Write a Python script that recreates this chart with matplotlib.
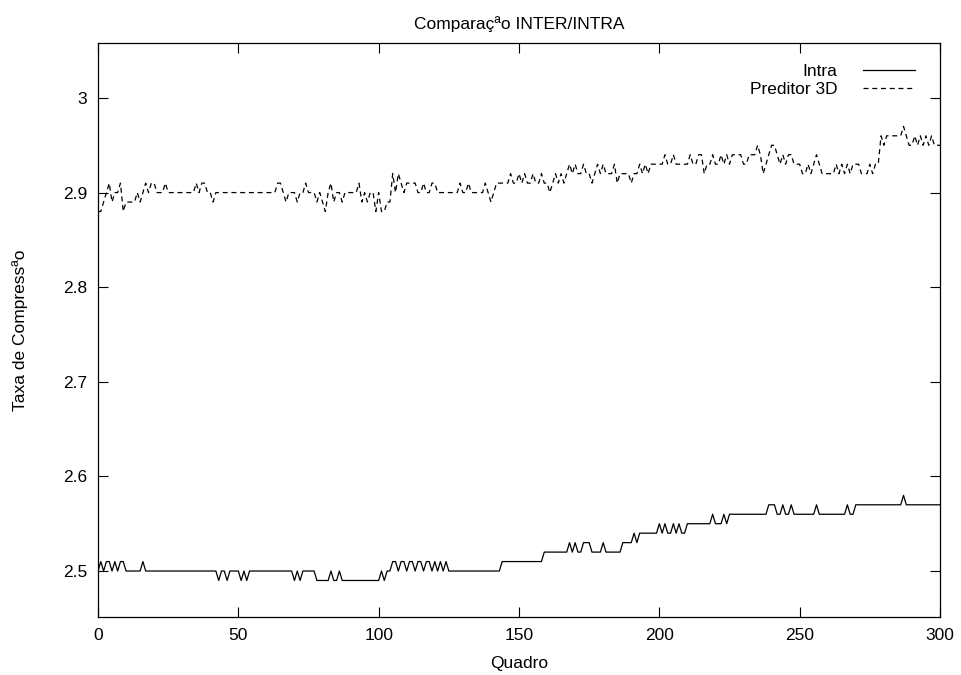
import matplotlib
matplotlib.use("Agg")
import matplotlib.pyplot as plt

plt.rcParams['font.family'] = ['Liberation Sans', 'DejaVu Sans']

# frame numbers 0..300
quadro = list(range(301))

intra = [
    2.50, 2.51, 2.50, 2.51, 2.51, 2.50, 2.51, 2.50, 2.51, 2.51,
    2.50, 2.50, 2.50, 2.50, 2.50, 2.50, 2.51, 2.50, 2.50, 2.50,
    2.50, 2.50, 2.50, 2.50, 2.50, 2.50, 2.50, 2.50, 2.50, 2.50,
    2.50, 2.50, 2.50, 2.50, 2.50, 2.50, 2.50, 2.50, 2.50, 2.50,
    2.50, 2.50, 2.50, 2.49, 2.50, 2.50, 2.49, 2.50, 2.50, 2.50,
    2.50, 2.49, 2.50, 2.49, 2.50, 2.50, 2.50, 2.50, 2.50, 2.50,
    2.50, 2.50, 2.50, 2.50, 2.50, 2.50, 2.50, 2.50, 2.50, 2.50,
    2.49, 2.50, 2.49, 2.50, 2.50, 2.50, 2.50, 2.50, 2.49, 2.49,
    2.49, 2.49, 2.49, 2.50, 2.49, 2.49, 2.50, 2.49, 2.49, 2.49,
    2.49, 2.49, 2.49, 2.49, 2.49, 2.49, 2.49, 2.49, 2.49, 2.49,
    2.49, 2.50, 2.49, 2.50, 2.50, 2.51, 2.51, 2.50, 2.51, 2.51,
    2.50, 2.51, 2.51, 2.50, 2.51, 2.51, 2.50, 2.51, 2.51, 2.50,
    2.51, 2.50, 2.51, 2.50, 2.51, 2.50, 2.50, 2.50, 2.50, 2.50,
    2.50, 2.50, 2.50, 2.50, 2.50, 2.50, 2.50, 2.50, 2.50, 2.50,
    2.50, 2.50, 2.50, 2.50, 2.51, 2.51, 2.51, 2.51, 2.51, 2.51,
    2.51, 2.51, 2.51, 2.51, 2.51, 2.51, 2.51, 2.51, 2.51, 2.52,
    2.52, 2.52, 2.52, 2.52, 2.52, 2.52, 2.52, 2.52, 2.53, 2.52,
    2.53, 2.52, 2.52, 2.53, 2.53, 2.53, 2.52, 2.52, 2.52, 2.52,
    2.53, 2.52, 2.52, 2.52, 2.52, 2.52, 2.52, 2.53, 2.53, 2.53,
    2.53, 2.54, 2.53, 2.54, 2.54, 2.54, 2.54, 2.54, 2.54, 2.54,
    2.55, 2.54, 2.55, 2.54, 2.54, 2.55, 2.54, 2.55, 2.54, 2.54,
    2.55, 2.55, 2.55, 2.55, 2.55, 2.55, 2.55, 2.55, 2.55, 2.56,
    2.55, 2.55, 2.55, 2.56, 2.55, 2.56, 2.56, 2.56, 2.56, 2.56,
    2.56, 2.56, 2.56, 2.56, 2.56, 2.56, 2.56, 2.56, 2.56, 2.57,
    2.57, 2.57, 2.56, 2.56, 2.57, 2.56, 2.56, 2.57, 2.56, 2.56,
    2.56, 2.56, 2.56, 2.56, 2.56, 2.56, 2.57, 2.56, 2.56, 2.56,
    2.56, 2.56, 2.56, 2.56, 2.56, 2.56, 2.56, 2.57, 2.56, 2.56,
    2.57, 2.57, 2.57, 2.57, 2.57, 2.57, 2.57, 2.57, 2.57, 2.57,
    2.57, 2.57, 2.57, 2.57, 2.57, 2.57, 2.57, 2.58, 2.57, 2.57,
    2.57, 2.57, 2.57, 2.57, 2.57, 2.57, 2.57, 2.57, 2.57, 2.57,
    2.57,
]

preditor = [
    2.88, 2.88, 2.89, 2.90, 2.91, 2.89, 2.90, 2.90, 2.91, 2.88,
    2.89, 2.89, 2.89, 2.89, 2.90, 2.89, 2.90, 2.91, 2.90, 2.91,
    2.91, 2.90, 2.90, 2.90, 2.91, 2.90, 2.90, 2.90, 2.90, 2.90,
    2.90, 2.90, 2.90, 2.90, 2.90, 2.91, 2.90, 2.91, 2.91, 2.90,
    2.90, 2.89, 2.90, 2.90, 2.90, 2.90, 2.90, 2.90, 2.90, 2.90,
    2.90, 2.90, 2.90, 2.90, 2.90, 2.90, 2.90, 2.90, 2.90, 2.90,
    2.90, 2.90, 2.90, 2.90, 2.91, 2.91, 2.90, 2.89, 2.90, 2.90,
    2.90, 2.89, 2.90, 2.90, 2.91, 2.90, 2.90, 2.90, 2.89, 2.90,
    2.89, 2.88, 2.90, 2.91, 2.89, 2.90, 2.90, 2.89, 2.90, 2.90,
    2.90, 2.90, 2.90, 2.91, 2.89, 2.90, 2.89, 2.90, 2.90, 2.88,
    2.90, 2.88, 2.88, 2.89, 2.89, 2.92, 2.90, 2.92, 2.91, 2.90,
    2.91, 2.91, 2.91, 2.91, 2.90, 2.90, 2.91, 2.90, 2.90, 2.91,
    2.91, 2.90, 2.90, 2.90, 2.90, 2.90, 2.90, 2.90, 2.90, 2.91,
    2.90, 2.90, 2.91, 2.90, 2.90, 2.90, 2.90, 2.90, 2.91, 2.90,
    2.89, 2.90, 2.91, 2.91, 2.91, 2.91, 2.91, 2.92, 2.91, 2.91,
    2.92, 2.91, 2.92, 2.91, 2.91, 2.92, 2.91, 2.91, 2.92, 2.91,
    2.91, 2.90, 2.91, 2.92, 2.91, 2.92, 2.91, 2.92, 2.93, 2.92,
    2.93, 2.92, 2.92, 2.93, 2.92, 2.92, 2.91, 2.92, 2.93, 2.92,
    2.93, 2.92, 2.92, 2.92, 2.93, 2.91, 2.92, 2.92, 2.92, 2.92,
    2.91, 2.92, 2.92, 2.93, 2.92, 2.93, 2.92, 2.93, 2.93, 2.93,
    2.93, 2.93, 2.94, 2.93, 2.93, 2.94, 2.93, 2.93, 2.93, 2.93,
    2.93, 2.94, 2.93, 2.93, 2.94, 2.94, 2.92, 2.93, 2.93, 2.94,
    2.93, 2.93, 2.94, 2.93, 2.94, 2.93, 2.94, 2.94, 2.94, 2.94,
    2.93, 2.93, 2.94, 2.94, 2.94, 2.95, 2.94, 2.92, 2.93, 2.94,
    2.95, 2.95, 2.94, 2.93, 2.94, 2.93, 2.94, 2.94, 2.93, 2.93,
    2.93, 2.92, 2.92, 2.93, 2.92, 2.93, 2.94, 2.93, 2.92, 2.92,
    2.92, 2.92, 2.92, 2.93, 2.92, 2.93, 2.92, 2.93, 2.92, 2.93,
    2.93, 2.93, 2.92, 2.92, 2.92, 2.93, 2.92, 2.93, 2.93, 2.96,
    2.95, 2.96, 2.96, 2.96, 2.96, 2.96, 2.96, 2.97, 2.96, 2.95,
    2.95, 2.96, 2.95, 2.96, 2.95, 2.96, 2.95, 2.96, 2.95, 2.95,
    2.95,
]

xticks = [0, 50, 100, 150, 200, 250, 300]
yticks = [2.5, 2.6, 2.7, 2.8, 2.9, 3.0]
ytick_labels = ['2.5', '2.6', '2.7', '2.8', '2.9', '3']

fig = plt.figure(figsize=(9.62, 6.75), dpi=100)
ax = fig.add_axes([98/962, 1 - 617/675, (940 - 98)/962, (617 - 43)/675])

ax.plot(quadro, intra, color='black', lw=0.9, label='Intra')
ax.plot(quadro, preditor, color='black', lw=0.9, linestyle=(0, (4, 3)), label='Preditor 3D')

ax.set_xlim(0, 300)
ax.set_ylim(2.4514, 3.0581)
ax.set_xticks(xticks)
ax.set_yticks(yticks)
ax.set_yticklabels(ytick_labels)
ax.tick_params(direction='in', top=True, right=True, length=7, width=0.8,
               labelsize=12.5, pad=8)
for s in ax.spines.values():
    s.set_linewidth(0.9)

ax.set_xlabel('Quadro', fontsize=12.5, labelpad=9)
ax.set_ylabel('Taxa de Compressªo', fontsize=12.5, labelpad=25)
ax.set_title('Comparaçªo INTER/INTRA', fontsize=12.5, pad=10)

ax.legend(loc='upper right', frameon=False, markerfirst=False, fontsize=12.5,
          handlelength=3.0, handletextpad=1.5, labelspacing=0.2,
          borderaxespad=0.5, bbox_to_anchor=(1 - 9/842, 1 - 5/574))

fig.savefig('out.png', dpi=100)
